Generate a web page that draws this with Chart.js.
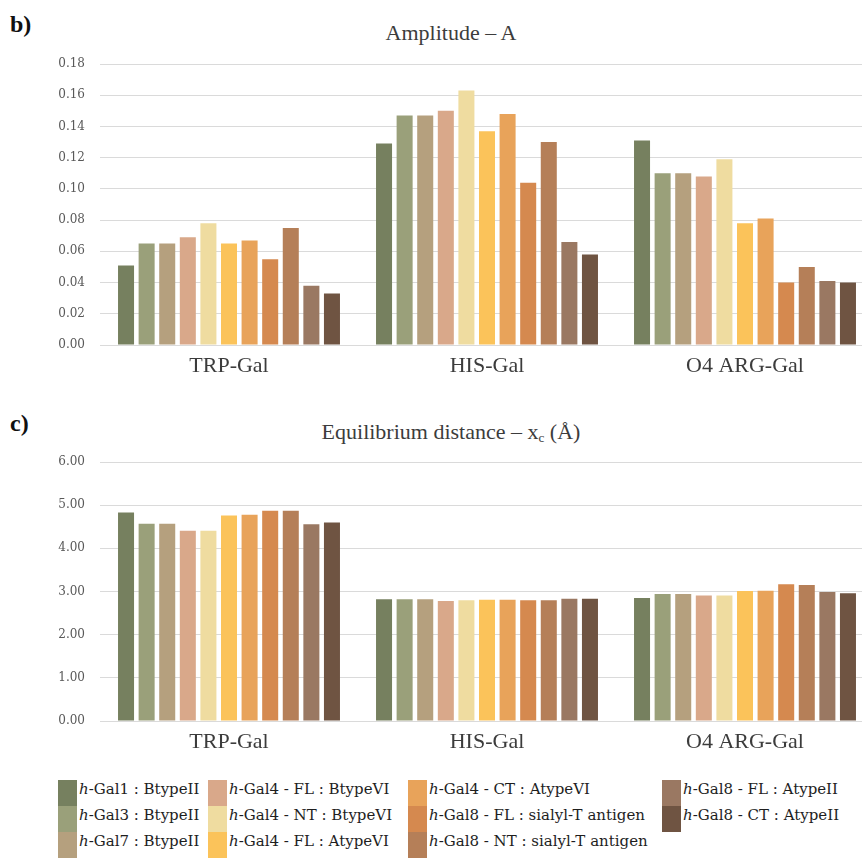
<!DOCTYPE html>
<html>
<head>
<meta charset="utf-8">
<script src="https://cdn.jsdelivr.net/npm/chart.js@4/dist/chart.umd.min.js"></script>
<style>
  html, body { margin: 0; padding: 0; background: #fff; overflow: hidden; }
  #figure { position: relative; width: 862px; height: 858px; overflow: hidden; background: #fff; }
  canvas { position: absolute; left: 0; }
  .panel { position: absolute; left: 10px; font-family: "Liberation Serif", serif; font-weight: bold;
           font-size: 24px; line-height: 24px; color: #111; }
  .title { position: absolute; left: 451px; transform: translateX(-50%); white-space: nowrap;
           font-family: "Liberation Serif", serif; font-size: 22px; line-height: 22px; color: #3c3c3c; }
  .title sub { font-size: 60%; vertical-align: -0.2em; line-height: 0; }
  .legend-item { position: absolute; height: 26px; white-space: nowrap;
                 font-family: "DejaVu Serif", serif; font-size: 15px; line-height: 26px; color: #1e1e1e; }
  .legend-item .sw { position: absolute; top: 4px; left: 0; width: 19px; height: 26px; }
  .legend-item .tx { position: absolute; left: 21px; top: 0; }
</style>
</head>
<body>
<div id="figure">
  <div class="panel" style="top:12px">b)</div>
  <div class="title" style="top:22px">Amplitude – A</div>
  <canvas id="ampChart" width="880" height="390" style="top:0"></canvas>

  <div class="panel" style="top:411px">c)</div>
  <div class="title" style="top:421px">Equilibrium distance – x<sub>c</sub> (Å)</div>
  <canvas id="distChart" width="880" height="376" style="top:390px"></canvas>

  <div id="legend"></div>
</div>

<script>
// Interaction sites (x-axis groups)
const categories = ['TRP-Gal', 'HIS-Gal', 'O4 ARG-Gal'];

// Galectin / glycan complexes, one bar per complex in every group
const seriesNames = [
  'h-Gal1 : BtypeII',
  'h-Gal3 : BtypeII',
  'h-Gal7 : BtypeII',
  'h-Gal4 - FL : BtypeVI',
  'h-Gal4 - NT : BtypeVI',
  'h-Gal4 - FL : AtypeVI',
  'h-Gal4 - CT : AtypeVI',
  'h-Gal8 - FL : sialyl-T antigen',
  'h-Gal8 - NT : sialyl-T antigen',
  'h-Gal8 - FL : AtypeII',
  'h-Gal8 - CT : AtypeII'
];

const seriesColors = [
  '#76805f', '#9aa07a', '#b5a07e', '#d9a88a', '#efdca0', '#fbc35a',
  '#e8a35a', '#d5894f', '#b57f58', '#9a7862', '#6f5442'
];

// Amplitude A, per group (one value per complex)
const ampTRP = [0.051, 0.065, 0.065, 0.069, 0.078, 0.065, 0.067, 0.055, 0.075, 0.038, 0.033];
const ampHIS = [0.129, 0.147, 0.147, 0.150, 0.163, 0.137, 0.148, 0.104, 0.130, 0.066, 0.058];
const ampARG = [0.131, 0.110, 0.110, 0.108, 0.119, 0.078, 0.081, 0.040, 0.050, 0.041, 0.040];

// Equilibrium distance x_c (Å), per group
const distTRP = [4.83, 4.57, 4.57, 4.41, 4.41, 4.76, 4.78, 4.87, 4.87, 4.56, 4.60];
const distHIS = [2.82, 2.82, 2.82, 2.78, 2.80, 2.81, 2.81, 2.80, 2.80, 2.83, 2.83];
const distARG = [2.85, 2.94, 2.94, 2.91, 2.91, 3.01, 3.02, 3.17, 3.15, 2.99, 2.96];

// Value axes
const ampAxis  = { min: 0, max: 0.18, step: 0.02 };
const distAxis = { min: 0, max: 6, step: 1 };

function buildDatasets(groups) {
  return seriesNames.map((name, i) => ({
    label: name,
    data: groups.map(g => g[i]),
    backgroundColor: seriesColors[i],
    borderWidth: 0,
    categoryPercentage: 0.878,
    barPercentage: 0.778
  }));
}

function makeChart(id, groups, axis, padTop) {
  return new Chart(document.getElementById(id), {
    type: 'bar',
    data: { labels: categories, datasets: buildDatasets(groups) },
    options: {
      responsive: false,
      animation: false,
      devicePixelRatio: 1,
      layout: { padding: { top: padTop, right: 6, bottom: 5, left: 0 } },
      plugins: { legend: { display: false }, title: { display: false }, tooltip: { enabled: false } },
      scales: {
        x: {
          grid: { display: false, drawTicks: false },
          border: { display: false },
          ticks: { font: { family: '"Liberation Serif", serif', size: 22 }, color: '#3c3c3c', padding: 8, maxRotation: 0 },
          afterFit: s => { s.height = 40; }
        },
        y: {
          min: axis.min, max: axis.max,
          grid: { color: '#dadada', lineWidth: 1, drawTicks: false },
          border: { display: false },
          ticks: {
            stepSize: axis.step,
            callback: v => Number(v).toFixed(2),
            font: { family: '"DejaVu Serif", serif', size: 12 },
            color: '#595959',
            padding: 15
          },
          afterFit: s => { s.width = 100; }
        }
      }
    }
  });
}

makeChart('ampChart', [ampTRP, ampHIS, ampARG], ampAxis, 64);
makeChart('distChart', [distTRP, distHIS, distARG], distAxis, 72);

// Legend: four columns filled top to bottom, three rows each
const legendCols = [58, 208, 408, 662];
const legendTop = 776, legendRow = 26, rowsPerCol = 3;
const legend = document.getElementById('legend');
seriesNames.forEach((name, i) => {
  const col = Math.floor(i / rowsPerCol), row = i % rowsPerCol;
  const item = document.createElement('div');
  item.className = 'legend-item';
  item.style.left = legendCols[col] + 'px';
  item.style.top = (legendTop + row * legendRow) + 'px';
  const sw = document.createElement('span');
  sw.className = 'sw';
  sw.style.background = seriesColors[i];
  const tx = document.createElement('span');
  tx.className = 'tx';
  const it = document.createElement('i');
  it.textContent = name.charAt(0);
  tx.appendChild(it);
  tx.appendChild(document.createTextNode(name.slice(1)));
  item.appendChild(sw);
  item.appendChild(tx);
  legend.appendChild(item);
});
</script>
</body>
</html>
